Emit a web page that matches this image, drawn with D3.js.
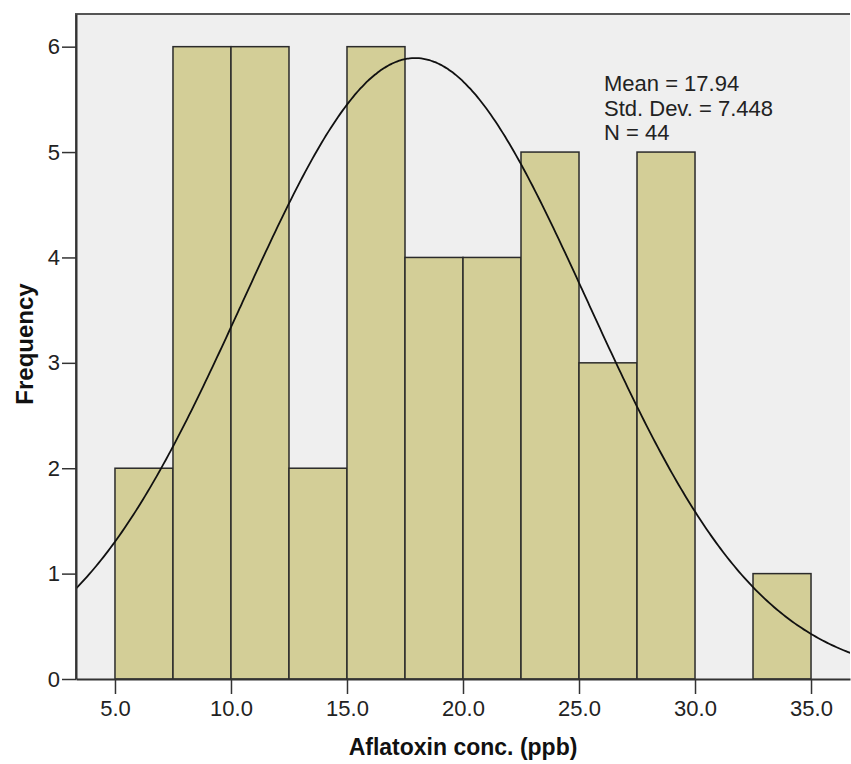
<!DOCTYPE html>
<html><head><meta charset="utf-8">
<script src="https://cdn.jsdelivr.net/npm/d3@7"></script>
<style>body{margin:0;background:#fff;} svg{display:block;font-family:"Liberation Sans",Arial,sans-serif;}</style>
</head><body>
<script>
const binStarts = [5, 7.5, 10, 12.5, 15, 17.5, 20, 22.5, 25, 27.5, 30, 32.5];
const binWidth = 2.5;
const frequencies = [2, 6, 6, 2, 6, 4, 4, 5, 3, 5, 0, 1];
const xTicks = [5, 10, 15, 20, 25, 30, 35];
const yTicks = [0, 1, 2, 3, 4, 5, 6];
const mean = 17.94, sd = 7.448, n = 44;
const statLines = ["Mean = 17.94", "Std. Dev. = 7.448", "N = 44"];

const W = 851, H = 764;
const m = {left: 76, right: 1, top: 14, bottom: 85};
const svg = d3.select("body").append("svg").attr("width", W).attr("height", H);
const x = d3.scaleLinear().domain([3.32, 36.68]).range([m.left, W - m.right]);
const y = d3.scaleLinear().domain([0, 6.31]).range([H - m.bottom, m.top]);

svg.append("defs").append("clipPath").attr("id", "clip")
  .append("rect").attr("x", m.left).attr("y", m.top).attr("width", W - m.right - m.left).attr("height", H - m.bottom - m.top);

svg.append("rect").attr("x", m.left).attr("y", m.top).attr("width", W - m.right - m.left).attr("height", H - m.bottom - m.top)
  .attr("fill", "#efefef");

const bars = binStarts.map((s, i) => ({s, f: frequencies[i]})).filter(d => d.f > 0);
svg.append("g").selectAll("rect").data(bars).join("rect")
  .attr("x", d => x(d.s)).attr("width", d => x(d.s + binWidth) - x(d.s))
  .attr("y", d => y(d.f)).attr("height", d => y(0) - y(d.f))
  .attr("fill", "#d3ce97").attr("stroke", "#2b2b2b").attr("stroke-width", 1.5);

// normal curve from displayed statistics
const xs = d3.range(3.0, 37.0, 0.1);
const pdf = v => n * binWidth / (sd * Math.sqrt(2 * Math.PI)) * Math.exp(-0.5 * ((v - mean) / sd) ** 2);
svg.append("path").datum(xs).attr("clip-path", "url(#clip)")
  .attr("d", d3.line().x(v => x(v)).y(v => y(pdf(v))).curve(d3.curveBasis))
  .attr("fill", "none").attr("stroke", "#111").attr("stroke-width", 1.8);

// frame
svg.append("path")
  .attr("d", `M${m.left},${H - m.bottom}V${m.top}H${W - m.right}`)
  .attr("fill", "none").attr("stroke", "#555").attr("stroke-width", 2);

const xAxis = svg.append("g").attr("transform", `translate(0,${H - m.bottom})`)
  .call(d3.axisBottom(x).tickValues(xTicks).tickFormat(d3.format(".1f")).tickSizeInner(15).tickSizeOuter(0).tickPadding(6));
const yAxis = svg.append("g").attr("transform", `translate(${m.left},0)`)
  .call(d3.axisLeft(y).tickValues(yTicks).tickFormat(d3.format("d")).tickSizeInner(14).tickSizeOuter(0).tickPadding(2));
[xAxis, yAxis].forEach(a => {
  a.select(".domain").attr("stroke", "#333").attr("stroke-width", 2);
  a.selectAll(".tick line").attr("stroke", "#333").attr("stroke-width", 1.5);
  a.selectAll(".tick text").attr("fill", "#222").style("font-size", "22px").style("font-family", "'Liberation Sans',Arial,sans-serif");
});

svg.append("text").attr("x", 463).attr("y", 755).attr("text-anchor", "middle")
  .style("font-size", "23px").style("font-weight", "bold").attr("fill", "#111").text("Aflatoxin conc. (ppb)");
svg.append("text").attr("transform", "translate(33,344) rotate(-90)").attr("text-anchor", "middle")
  .style("font-size", "24px").style("font-weight", "bold").attr("fill", "#111").text("Frequency");

svg.append("g").selectAll("text").data(statLines).join("text")
  .attr("x", 604).attr("y", (d, i) => 91 + i * 24.5)
  .style("font-size", "22px").attr("fill", "#222").text(d => d);
</script>
</body></html>
